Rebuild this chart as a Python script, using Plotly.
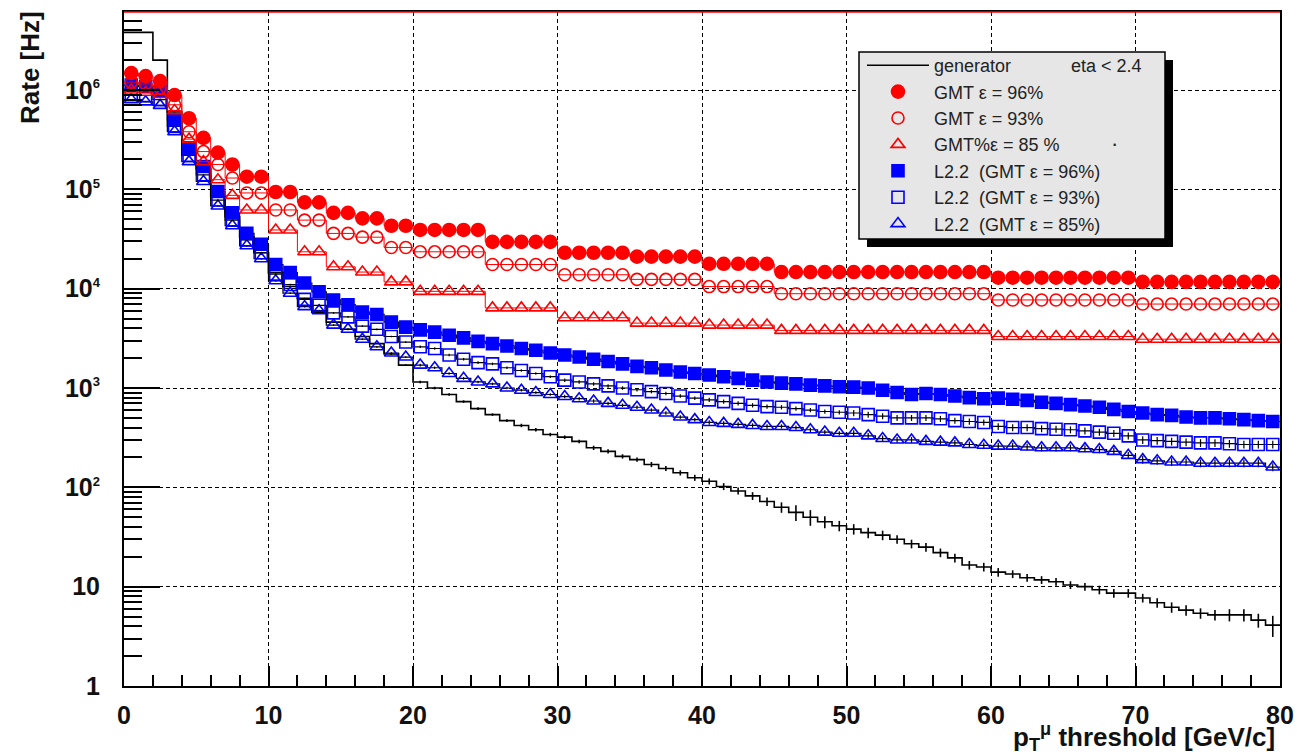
import numpy as np
import plotly.graph_objects as go

# ---------------- data ----------------
pt_edges = list(range(0, 81))                 # bin edges, 1 GeV/c bins
pt_centers = [e + 0.5 for e in range(0, 80)]  # bin centres

generator = [3.8e6, 3.8e6, 2.0e6, 6.0e5, 3.0e5, 1.6e5, 8.5e4, 5.3e4, 3.3e4, 2.3e4,
             1.45e4, 1.05e4, 8.0e3, 5.8e3, 4.6e3, 3.9e3, 3.3e3, 2.8e3, 2.2e3, 1.7e3,
             1.15e3, 1.0e3, 8.6e2, 7.3e2, 6.2e2, 5.4e2, 4.7e2, 4.2e2, 3.8e2, 3.4e2,
             3.2e2, 2.9e2, 2.5e2, 2.3e2, 2.05e2, 1.9e2, 1.7e2, 1.55e2, 1.4e2, 1.25e2,
             1.15e2, 1.02e2, 92, 82, 72, 63, 56, 50, 45, 41,
             38, 35, 33, 30, 27, 25, 22, 19.5, 16.5, 15.8,
             14, 13.4, 12.3, 11.7, 11.2, 10.4, 10, 9.3, 8.6, 8.6,
             7.7, 6.9, 6.2, 5.8, 5.4, 5.2, 5.2, 5.2, 4.6, 4.1]
generator_relerr = [
             0.01, 0.01, 0.01, 0.01, 0.01, 0.01, 0.01, 0.01, 0.01, 0.01,
             0.01, 0.01, 0.01, 0.01, 0.01, 0.01, 0.01, 0.01, 0.02, 0.02,
             0.03, 0.03, 0.03, 0.03, 0.03, 0.03, 0.03, 0.04, 0.04, 0.04,
             0.04, 0.04, 0.05, 0.05, 0.05, 0.05, 0.06, 0.06, 0.06, 0.07,
             0.07, 0.08, 0.08, 0.09, 0.10, 0.12, 0.18, 0.18, 0.14, 0.12,
             0.12, 0.12, 0.11, 0.10, 0.10, 0.10, 0.10, 0.10, 0.10, 0.10,
             0.10, 0.09, 0.09, 0.09, 0.09, 0.09, 0.09, 0.10, 0.10, 0.10,
             0.10, 0.11, 0.12, 0.12, 0.12, 0.12, 0.14, 0.14, 0.16, 0.24]

gmt96 = [1.48e6, 1.38e6, 1.23e6, 8.9e5, 5.2e5, 3.3e5, 2.34e5, 1.78e5, 1.34e5, 1.34e5,
         9.4e4, 9.4e4, 7.4e4, 7.4e4, 5.8e4, 5.8e4, 5.1e4, 5.1e4, 4.3e4, 4.3e4,
         3.9e4, 3.9e4, 3.9e4, 3.9e4, 3.9e4, 2.96e4, 2.96e4, 2.96e4, 2.96e4, 2.96e4,
         2.3e4, 2.3e4, 2.3e4, 2.3e4, 2.3e4, 2.1e4, 2.1e4, 2.1e4, 2.1e4, 2.1e4,
         1.78e4, 1.78e4, 1.78e4, 1.78e4, 1.78e4, 1.47e4, 1.47e4, 1.47e4, 1.47e4, 1.47e4,
         1.47e4, 1.47e4, 1.47e4, 1.47e4, 1.47e4, 1.47e4, 1.47e4, 1.47e4, 1.47e4, 1.47e4,
         1.29e4, 1.29e4, 1.29e4, 1.29e4, 1.29e4, 1.29e4, 1.29e4, 1.29e4, 1.29e4, 1.29e4,
         1.17e4, 1.17e4, 1.17e4, 1.17e4, 1.17e4, 1.17e4, 1.17e4, 1.17e4, 1.17e4, 1.17e4]

gmt93 = [1.2e6, 1.15e6, 1.05e6, 7.1e5, 3.8e5, 2.4e5, 1.78e5, 1.3e5, 9.2e4, 9.2e4,
         6.2e4, 6.2e4, 4.9e4, 4.9e4, 3.6e4, 3.6e4, 3.3e4, 3.3e4, 2.6e4, 2.6e4,
         2.35e4, 2.35e4, 2.35e4, 2.35e4, 2.35e4, 1.75e4, 1.75e4, 1.75e4, 1.75e4, 1.75e4,
         1.38e4, 1.38e4, 1.38e4, 1.38e4, 1.38e4, 1.24e4, 1.24e4, 1.24e4, 1.24e4, 1.24e4,
         1.05e4, 1.05e4, 1.05e4, 1.05e4, 1.05e4, 8.9e3, 8.9e3, 8.9e3, 8.9e3, 8.9e3,
         8.9e3, 8.9e3, 8.9e3, 8.9e3, 8.9e3, 8.9e3, 8.9e3, 8.9e3, 8.9e3, 8.9e3,
         7.7e3, 7.7e3, 7.7e3, 7.7e3, 7.7e3, 7.7e3, 7.7e3, 7.7e3, 7.7e3, 7.7e3,
         7.0e3, 7.0e3, 7.0e3, 7.0e3, 7.0e3, 7.0e3, 7.0e3, 7.0e3, 7.0e3, 7.0e3]

gmt85 = [1.0e6, 9.5e5, 9.0e5, 6.2e5, 3.2e5, 1.9e5, 1.25e5, 8.7e4, 6.2e4, 6.2e4,
         3.9e4, 3.9e4, 2.35e4, 2.35e4, 1.66e4, 1.66e4, 1.47e4, 1.47e4, 1.17e4, 1.17e4,
         9.4e3, 9.4e3, 9.4e3, 9.4e3, 9.4e3, 6.4e3, 6.4e3, 6.4e3, 6.4e3, 6.4e3,
         5.1e3, 5.1e3, 5.1e3, 5.1e3, 5.1e3, 4.5e3, 4.5e3, 4.5e3, 4.5e3, 4.5e3,
         4.3e3, 4.3e3, 4.3e3, 4.3e3, 4.3e3, 3.8e3, 3.8e3, 3.8e3, 3.8e3, 3.8e3,
         3.8e3, 3.8e3, 3.8e3, 3.8e3, 3.8e3, 3.8e3, 3.8e3, 3.8e3, 3.8e3, 3.8e3,
         3.3e3, 3.3e3, 3.3e3, 3.3e3, 3.3e3, 3.3e3, 3.3e3, 3.3e3, 3.3e3, 3.3e3,
         3.1e3, 3.1e3, 3.1e3, 3.1e3, 3.1e3, 3.1e3, 3.1e3, 3.1e3, 3.1e3, 3.1e3]

l22_96 = [1.12e6, 1.08e6, 9.7e5, 5.0e5, 2.6e5, 1.7e5, 9.5e4, 5.8e4, 3.6e4, 2.8e4,
          1.75e4, 1.45e4, 1.14e4, 9.3e3, 7.7e3, 6.9e3, 5.8e3, 5.5e3, 4.6e3, 4.1e3,
          3.85e3, 3.65e3, 3.4e3, 3.2e3, 2.95e3, 2.8e3, 2.65e3, 2.5e3, 2.4e3, 2.25e3,
          2.15e3, 2.05e3, 1.95e3, 1.85e3, 1.75e3, 1.65e3, 1.6e3, 1.52e3, 1.45e3, 1.4e3,
          1.35e3, 1.3e3, 1.25e3, 1.2e3, 1.15e3, 1.12e3, 1.1e3, 1.07e3, 1.05e3, 1.03e3,
          1.02e3, 1.0e3, 9.5e2, 9.0e2, 8.6e2, 8.8e2, 8.6e2, 8.3e2, 8.0e2, 7.8e2,
          7.9e2, 7.7e2, 7.5e2, 7.2e2, 7.0e2, 6.8e2, 6.6e2, 6.4e2, 6.1e2, 5.8e2,
          5.6e2, 5.4e2, 5.3e2, 5.1e2, 5.0e2, 5.0e2, 4.9e2, 4.8e2, 4.7e2, 4.6e2]

l22_93 = [9.0e5, 8.8e5, 8.0e5, 4.3e5, 2.2e5, 1.4e5, 7.8e4, 4.9e4, 3.1e4, 2.3e4,
          1.4e4, 1.1e4, 7.8e3, 6.8e3, 5.7e3, 5.2e3, 4.2e3, 3.9e3, 3.3e3, 2.9e3,
          2.6e3, 2.5e3, 2.15e3, 1.95e3, 1.8e3, 1.75e3, 1.6e3, 1.5e3, 1.4e3, 1.3e3,
          1.2e3, 1.15e3, 1.1e3, 1.05e3, 1.0e3, 9.6e2, 9.2e2, 8.8e2, 8.3e2, 7.9e2,
          7.6e2, 7.3e2, 7.0e2, 6.7e2, 6.5e2, 6.4e2, 6.2e2, 6.0e2, 5.8e2, 5.7e2,
          5.6e2, 5.4e2, 5.2e2, 5.0e2, 5.0e2, 5.0e2, 4.9e2, 4.7e2, 4.6e2, 4.5e2,
          4.1e2, 4.0e2, 4.0e2, 3.9e2, 3.85e2, 3.8e2, 3.7e2, 3.6e2, 3.5e2, 3.3e2,
          3.0e2, 2.95e2, 2.9e2, 2.85e2, 2.8e2, 2.8e2, 2.75e2, 2.7e2, 2.7e2, 2.7e2]

l22_85 = [8.0e5, 7.6e5, 7.0e5, 3.8e5, 1.9e5, 1.2e5, 6.8e4, 4.3e4, 2.7e4, 2.0e4,
          1.2e4, 9.0e3, 6.6e3, 6.0e3, 4.3e3, 3.9e3, 3.1e3, 2.6e3, 2.25e3, 2.05e3,
          1.7e3, 1.6e3, 1.4e3, 1.25e3, 1.15e3, 1.1e3, 1.0e3, 9.5e2, 9.0e2, 8.6e2,
          8.2e2, 7.8e2, 7.4e2, 7.0e2, 6.7e2, 6.4e2, 6.0e2, 5.6e2, 5.1e2, 4.8e2,
          4.5e2, 4.4e2, 4.3e2, 4.2e2, 4.1e2, 4.1e2, 4.0e2, 3.8e2, 3.6e2, 3.5e2,
          3.5e2, 3.3e2, 3.1e2, 3.0e2, 3.0e2, 2.9e2, 2.85e2, 2.8e2, 2.7e2, 2.65e2,
          2.6e2, 2.6e2, 2.55e2, 2.5e2, 2.5e2, 2.5e2, 2.45e2, 2.4e2, 2.3e2, 2.1e2,
          1.9e2, 1.85e2, 1.8e2, 1.8e2, 1.75e2, 1.75e2, 1.75e2, 1.75e2, 1.75e2, 1.6e2]

l22_relerr = [
          0.01, 0.01, 0.01, 0.01, 0.01, 0.01, 0.01, 0.01, 0.02, 0.02,
          0.02, 0.02, 0.02, 0.02, 0.02, 0.02, 0.02, 0.02, 0.02, 0.02,
          0.03, 0.03, 0.03, 0.03, 0.03, 0.03, 0.03, 0.03, 0.03, 0.03,
          0.04, 0.04, 0.04, 0.04, 0.04, 0.04, 0.04, 0.04, 0.04, 0.04,
          0.05, 0.05, 0.05, 0.05, 0.05, 0.05, 0.05, 0.05, 0.05, 0.05,
          0.07, 0.07, 0.07, 0.07, 0.07, 0.07, 0.07, 0.07, 0.07, 0.07,
          0.08, 0.08, 0.08, 0.08, 0.08, 0.08, 0.08, 0.08, 0.08, 0.08,
          0.09, 0.09, 0.09, 0.09, 0.09, 0.09, 0.09, 0.09, 0.09, 0.09]

ytick_vals = [1, 10, 1e2, 1e3, 1e4, 1e5, 1e6]
ytick_text = ["1", "10"] + ["10<sup><span style='font-size:13px'>%d</span></sup>" % k for k in range(2, 7)]
xtick_vals = [0, 10, 20, 30, 40, 50, 60, 70, 80]

NB = "\u00a0"
names = {
    "gen": "generator" + NB * 12 + "eta &lt; 2.4",
    "g96": "GMT \u03b5 = 96%",
    "g93": "GMT \u03b5 = 93%",
    "g85": "GMT%\u03b5 = 85 %",
    "l96": "L2.2" + NB * 2 + "(GMT \u03b5 = 96%)",
    "l93": "L2.2" + NB * 2 + "(GMT \u03b5 = 93%)",
    "l85": "L2.2" + NB * 2 + "(GMT \u03b5 = 85%)",
}

RED = "#ff0000"
BLUE = "#0000ff"
FONT = "Liberation Sans"

def step_y(vals):
    return list(vals) + [vals[-1]]

fig = go.Figure()

# generator: histogram step line + error bars
fig.add_trace(go.Scatter(x=pt_edges, y=step_y(generator), mode="lines", line_shape="hv",
                         line=dict(color="black", width=1.6), name=names["gen"], showlegend=True,
                         legendrank=1))
fig.add_trace(go.Scatter(x=pt_centers, y=generator, mode="markers", marker=dict(size=1, color="black"),
                         error_y=dict(type="data", array=[v * e for v, e in zip(generator, generator_relerr)],
                                      color="black", thickness=1.6, width=0),
                         showlegend=False, hoverinfo="skip"))

# L2.2 series: black step line, black error bars, blue markers
for vals, key, sym, rank in [(l22_85, "l85", "triangle-up-open", 7),
                             (l22_93, "l93", "square-open", 6),
                             (l22_96, "l96", "square", 5)]:
    fig.add_trace(go.Scatter(x=pt_edges, y=step_y(vals), mode="lines", line_shape="hv",
                             line=dict(color="black", width=1.2), showlegend=False, hoverinfo="skip"))
    fig.add_trace(go.Scatter(x=pt_centers, y=vals, mode="markers", name=names[key], legendrank=rank,
                             marker=dict(symbol=sym, size=12, color=BLUE, line=dict(color=BLUE, width=1.6)),
                             error_y=dict(type="data", array=[v * e for v, e in zip(vals, l22_relerr)],
                                          color="black", thickness=1.2, width=0)))

# GMT series: red markers with thin red step line
for vals, key, sym, size, rank in [(gmt85, "g85", "triangle-up-open", 12, 4),
                                   (gmt93, "g93", "circle-open", 12, 3),
                                   (gmt96, "g96", "circle", 13, 2)]:
    fig.add_trace(go.Scatter(x=pt_edges, y=step_y(vals), mode="lines", line_shape="hv",
                             line=dict(color=RED, width=1), showlegend=False, hoverinfo="skip"))
    fig.add_trace(go.Scatter(x=pt_centers, y=vals, mode="markers", name=names[key], legendrank=rank,
                             marker=dict(symbol=sym, size=size, color=RED, line=dict(color=RED, width=1.6))))

W, H = 1297, 755
ML, MR, MT, MB = 124, 17, 12, 69
pw, ph = W - ML - MR, H - MT - MB

def px_x(p):
    return (p - ML) / pw

def px_y(p):
    return (H - MB - p) / ph

# legend frame (pixels) drawn as shapes; entries come from the native legend
BOX_L, BOX_T, BOX_R, BOX_B = 859, 52, 1165, 239
SH = 8

fig.update_layout(
    width=W, height=H,
    margin=dict(l=ML, r=MR, t=MT, b=MB, pad=0, autoexpand=False),
    paper_bgcolor="white", plot_bgcolor="white",
    font=dict(family=FONT, color="black"),
    showlegend=True,
    legend=dict(x=px_x(BOX_L + 3), y=px_y(BOX_T - 5), xanchor="left", yanchor="top",
                bgcolor="rgba(0,0,0,0)", borderwidth=0,
                font=dict(family=FONT, size=18, color="#222222"),
                itemwidth=62, tracegroupgap=0, traceorder="normal"),
    xaxis=dict(range=[0, 80], tickmode="array", tickvals=xtick_vals, automargin=False,
               ticks="inside", ticklen=20, tickwidth=1.5, tickcolor="black",
               showline=True, linecolor="black", linewidth=2, mirror=True,
               showgrid=True, gridcolor="black", gridwidth=1, griddash="4px,3px",
               zeroline=False,
               tickfont=dict(family=FONT, size=25, weight="bold", color="#111111"),
               ticklabelstandoff=6,
               minor=dict(dtick=2, ticks="inside", ticklen=11, tickwidth=1.5, tickcolor="black",
                          showgrid=False)),
    yaxis=dict(type="log", range=[0, np.log10(6.1e6)], tickmode="array", automargin=False,
               tickvals=ytick_vals, ticktext=ytick_text,
               ticks="inside", ticklen=36, tickwidth=1.5, tickcolor="black",
               showline=True, linecolor="black", linewidth=2, mirror=True,
               showgrid=True, gridcolor="black", gridwidth=1, griddash="4px,3px",
               zeroline=False,
               tickfont=dict(family=FONT, size=25, weight="bold", color="#111111"),
               ticklabelstandoff=17,
               minor=dict(dtick="D1", ticks="inside", ticklen=18, tickwidth=1.5, tickcolor="black",
                          showgrid=False)),
)

shapes = [
    # legend drop shadow
    dict(type="rect", xref="paper", yref="paper", layer="above",
         x0=px_x(BOX_L + SH), x1=px_x(BOX_R + SH), y0=px_y(BOX_B + SH), y1=px_y(BOX_T + SH),
         fillcolor="black", line=dict(width=0)),
    # legend frame
    dict(type="rect", xref="paper", yref="paper", layer="above",
         x0=px_x(BOX_L), x1=px_x(BOX_R), y0=px_y(BOX_B), y1=px_y(BOX_T),
         fillcolor="#e6e6e6", line=dict(color="black", width=1.5)),
    # red line along top frame
    dict(type="line", xref="paper", yref="paper", layer="above",
         x0=0, x1=1, y0=1, y1=1, line=dict(color=RED, width=1.5)),
]
fig.update_layout(shapes=shapes)

fig.add_annotation(text="<b>Rate [Hz]</b>", xref="paper", yref="paper",
                   x=px_x(30), y=px_y(68), xanchor="center", yanchor="middle",
                   textangle=-90, showarrow=False,
                   font=dict(family=FONT, size=26, color="#111111"))
fig.add_annotation(text="<b>p<sub>T</sub><sup>\u03bc</sup> threshold [GeV/c]</b>", xref="paper", yref="paper",
                   x=px_x(1277), y=px_y(737), xanchor="right", yanchor="middle",
                   showarrow=False, font=dict(family=FONT, size=26, color="#111111"))
fig.add_annotation(text="\u00b7", xref="paper", yref="paper",
                   x=px_x(1114), y=px_y(143), xanchor="center", yanchor="middle",
                   showarrow=False, font=dict(family=FONT, size=22, color="#222222"))

fig.write_html("out.html")
